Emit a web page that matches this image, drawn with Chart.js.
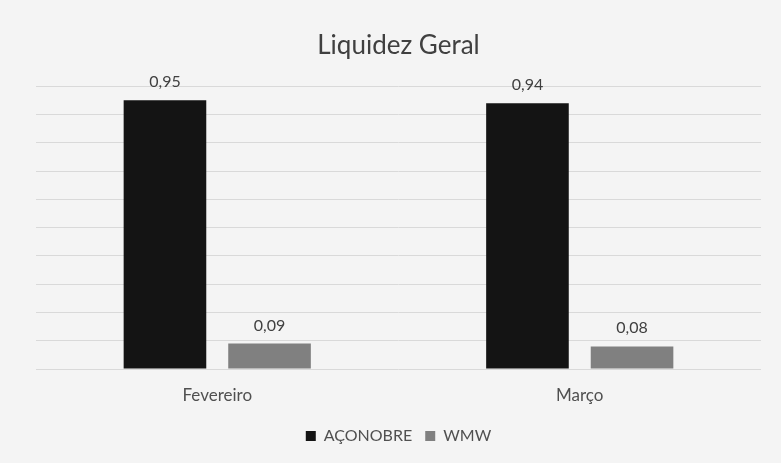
<!DOCTYPE html>
<html>
<head>
<meta charset="utf-8">
<script src="https://cdn.jsdelivr.net/npm/chart.js@4/dist/chart.umd.min.js"></script>
<style>
  html, body { margin: 0; padding: 0; background: #f4f4f4; }
  #wrap { width: 781px; height: 463px; }
</style>
</head>
<body>
<div id="wrap"><canvas id="grafico"></canvas></div>
<script>
// Données du graphique
const meses = ['Fevereiro', 'Março'];
const aconobre = [0.95, 0.94];
const wmw = [0.09, 0.08];

// Étiquettes de valeur au-dessus des barres
const valueLabels = {
    id: 'valueLabels',
    afterDatasetsDraw(chart) {
        const ctx = chart.ctx;
        ctx.save();
        ctx.font = '16px Lato';
        ctx.fillStyle = '#404040';
        ctx.textAlign = 'center';
        ctx.textBaseline = 'alphabetic';
        chart.data.datasets.forEach((ds, i) => {
            chart.getDatasetMeta(i).data.forEach((bar, j) => {
                ctx.fillText(ds.data[j].toFixed(2).replace('.', ','), bar.x, bar.y - 13);
            });
        });
        ctx.restore();
    }
};

const ctx = document.getElementById('grafico').getContext('2d');
new Chart(ctx, {
    type: 'bar',
    data: {
        labels: meses,
        datasets: [
            {
                label: 'AÇONOBRE',
                data: aconobre,
                backgroundColor: '#141414'
            },
            {
                label: 'WMW',
                data: wmw,
                backgroundColor: '#808080'
            }
        ]
    },
    options: {
        responsive: true,
        maintainAspectRatio: false,
        animation: false,
        categoryPercentage: 0.577,
        barPercentage: 0.79,
        layout: { padding: { left: 36, right: 20, top: 0, bottom: 9 } },
        scales: {
            x: {
                grid: { display: false, drawTicks: false },
                border: { display: false },
                ticks: { color: '#505050', font: { family: 'Lato', size: 17 }, padding: 16 },
                afterFit(scale) { scale.height = 46; }
            },
            y: {
                min: 0,
                max: 1,
                ticks: { stepSize: 0.1, display: false },
                border: { display: false },
                grid: { color: '#d9d9d9', drawTicks: false }
            }
        },
        plugins: {
            title: {
                display: true,
                text: 'Liquidez Geral',
                color: '#404040',
                font: { family: 'Lato', size: 26, weight: 'normal' },
                padding: { top: 30, bottom: 25 }
            },
            legend: {
                position: 'bottom',
                labels: {
                    color: '#505050',
                    font: { family: 'Lato', size: 16 },
                    boxWidth: 10,
                    boxHeight: 10,
                    padding: 13
                }
            },
            tooltip: { enabled: false }
        }
    },
    plugins: [valueLabels]
});
</script>
</body>
</html>
